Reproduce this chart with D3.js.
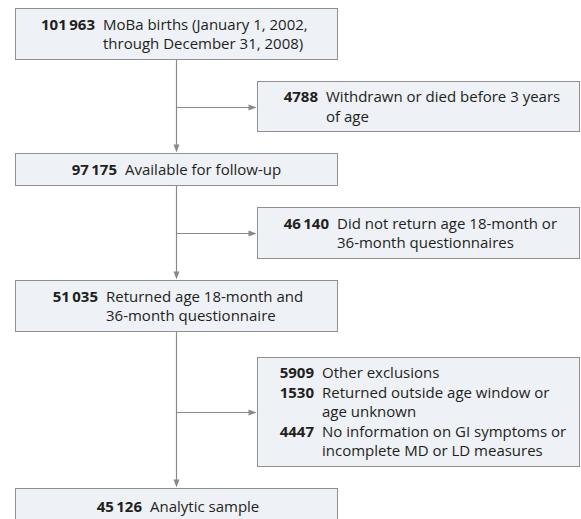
<!DOCTYPE html>
<html>
<head>
<meta charset="utf-8">
<script src="https://cdn.jsdelivr.net/npm/d3@7"></script>
<style>
  html, body { margin: 0; padding: 0; background: #ffffff; }
  svg { display: block; }
  text { font-family: "Open Sans", "Liberation Sans", sans-serif; font-size: 15px; fill: #231f20; }
  .num { font-weight: 700; }
</style>
</head>
<body>
<script>
// ---- data ----
const mainCounts = [101963, 97175, 51035, 45126];
const mainLabels = [
  ["MoBa births (January 1, 2002,", "through December 31, 2008)"],
  ["Available for follow-up"],
  ["Returned age 18-month and", "36-month questionnaire"],
  ["Analytic sample"]
];
const exclusionCounts = [[4788], [46140], [5909, 1530, 4447]];
const exclusionLabels = [
  [["Withdrawn or died before 3 years", "of age"]],
  [["Did not return age 18-month or", "36-month questionnaires"]],
  [["Other exclusions"],
   ["Returned outside age window or", "age unknown"],
   ["No information on GI symptoms or", "incomplete MD or LD measures"]]
];

// ---- layout ----
const W = 581, H = 519;
const mainX = [15.5, 337.5];
const exclX = [257.5, 579.5];
const mainY = [[8.5, 59.5], [153.5, 185.5], [280.5, 331.5], [488.5, 524]];
const exclY = [[81.5, 131.5], [207.5, 258.5], [357.5, 466.5]];
const mainNumRight = [95, 117, 98, 142];
const exclNumRight = [318, 329, 314];
const gap = 8;
const lineH = 19.5;
const spineX = 176.5;

const fmt = n => (n >= 10000 ? d3.format(",")(n).replace(/,/g, "\u2009") : String(n));

const svg = d3.select("body").append("svg").attr("width", W).attr("height", H);

const lineColor = "#8a8a8a";
const boxFill = "#eef1f5";
const boxStroke = "#8f8f8f";

function drawBox(x0, x1, y0, y1, rows, numRight) {
  svg.append("rect")
    .attr("x", x0).attr("y", y0)
    .attr("width", x1 - x0).attr("height", y1 - y0)
    .attr("fill", boxFill).attr("stroke", boxStroke).attr("stroke-width", 1);
  // rows: [{n, lines}]
  const all = [];
  rows.forEach(r => r.lines.forEach((l, i) => all.push({n: i === 0 ? r.n : null, text: l})));
  const cy = (Math.min(y1, y0 + 51) + y0) / 2;
  const center = (y0 + y1) / 2;
  const c = (y1 - y0) > 40 ? center : center;
  all.forEach((d, i) => {
    const y = c + (i - (all.length - 1) / 2) * lineH;
    if (d.n !== null) {
      svg.append("text").attr("class", "num")
        .attr("x", numRight).attr("y", y).attr("dy", "0.35em")
        .attr("text-anchor", "end").text(fmt(d.n));
    }
    svg.append("text")
      .attr("x", numRight + gap).attr("y", y).attr("dy", "0.35em")
      .text(d.text);
  });
}

function arrowHead(x, y, dir) {
  // dir: "down" or "right", tip at (x,y)
  const L = 8, hw = 3;
  const pts = dir === "down"
    ? [[x, y], [x - hw, y - L], [x + hw, y - L]]
    : [[x, y], [x - L, y - hw], [x - L, y + hw]];
  svg.append("path").attr("d", d3.line()(pts) + "Z").attr("fill", lineColor);
}

// connectors
for (let i = 0; i < 3; i++) {
  const yTop = mainY[i][1];
  const yBot = mainY[i + 1][0] - 1;
  svg.append("line").attr("x1", spineX).attr("x2", spineX)
    .attr("y1", yTop).attr("y2", yBot - 6)
    .attr("stroke", lineColor).attr("stroke-width", 1.2);
  arrowHead(spineX, yBot, "down");
  const by = Math.round((exclY[i][0] + exclY[i][1]) / 2) + 0.5;
  svg.append("line").attr("x1", spineX).attr("x2", exclX[0] - 6)
    .attr("y1", by).attr("y2", by)
    .attr("stroke", lineColor).attr("stroke-width", 1.2);
  arrowHead(exclX[0] - 1, by, "right");
}

// boxes
mainCounts.forEach((n, i) => {
  drawBox(mainX[0], mainX[1], mainY[i][0], mainY[i][1], [{n, lines: mainLabels[i]}], mainNumRight[i]);
});
exclusionCounts.forEach((ns, i) => {
  drawBox(exclX[0], exclX[1], exclY[i][0], exclY[i][1],
    ns.map((n, j) => ({n, lines: exclusionLabels[i][j]})), exclNumRight[i]);
});
</script>
</body>
</html>
